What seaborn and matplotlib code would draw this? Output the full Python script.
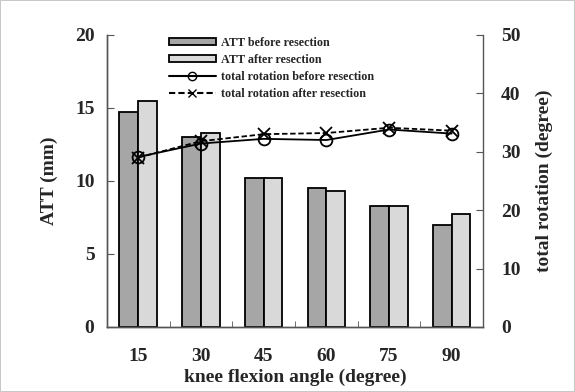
import numpy as np
import pandas as pd
import matplotlib
matplotlib.use("Agg")
import matplotlib.pyplot as plt
import seaborn as sns
from matplotlib.patches import Patch
from matplotlib.lines import Line2D
from matplotlib.ticker import FixedLocator

# ─────────────────────────────────────────────
# Data
# ─────────────────────────────────────────────
angles = ["15", "30", "45", "60", "75", "90"]
att_before = [14.75, 13.03, 10.2, 9.5, 8.3, 7.0]
att_after = [15.5, 13.3, 10.2, 9.3, 8.3, 7.75]
rot_before = [29.1, 31.4, 32.2, 32.0, 33.8, 33.1]
rot_after = [29.0, 31.8, 33.0, 33.2, 34.1, 33.6]

bar_labels = ["ATT before resection", "ATT after resection"]
line_labels = ["total rotation before resection", "total rotation after resection"]
bar_colors = ["#a6a6a6", "#d9d9d9"]

sns.set_style("ticks")
plt.rcParams["font.family"] = ["Liberation Serif", "DejaVu Serif"]
plt.rcParams["font.weight"] = "bold"

bars = pd.DataFrame({
    "angle": angles * 2,
    "att": att_before + att_after,
    "group": [bar_labels[0]] * len(angles) + [bar_labels[1]] * len(angles),
})
lines = pd.DataFrame({
    "angle": angles * 2,
    "rot": rot_before + rot_after,
    "group": [line_labels[0]] * len(angles) + [line_labels[1]] * len(angles),
})

fig = plt.figure(figsize=(5.75, 3.92), dpi=100)
fig.patch.set_linewidth(1.2)
ax = fig.add_axes([0.186, 0.166, 0.654, 0.745])

sns.barplot(data=bars, x="angle", y="att", hue="group", hue_order=bar_labels,
            palette=bar_colors, width=0.6, edgecolor="black", linewidth=1.3,
            saturation=1, ax=ax, legend=False)

ax2 = ax.twinx()
sns.pointplot(data=lines, x="angle", y="rot", hue="group", hue_order=line_labels,
              palette=["black", "black"], markers=["o", "x"], linestyles=["-", (0, (3, 1.5))],
              markersize=8.5, markerfacecolor="none", markeredgewidth=1.3,
              linewidth=1.3, ax=ax2, legend=False)

n = len(angles)
ax.set_xlim(-0.5, n - 0.5)
ax.set_ylim(0, 20)
ax2.set_ylim(0, 50)
ax.set_yticks([0, 5, 10, 15, 20])
ax2.set_yticks([0, 10, 20, 30, 40, 50])

ax.set_xlabel("knee flexion angle (degree)", fontsize=14, fontweight="bold", labelpad=3)
ax.set_ylabel("ATT (mm)", fontsize=14, fontweight="bold", labelpad=12)
ax2.set_ylabel("total rotation (degree)", fontsize=14, fontweight="bold", labelpad=11)

ax.tick_params(axis="x", length=0, labelsize=14, pad=15)
ax.xaxis.set_minor_locator(FixedLocator(np.arange(n - 1) + 0.5))
ax.tick_params(axis="x", which="minor", direction="in", length=4, color="#555555")
ax.tick_params(axis="y", direction="in", length=5, labelsize=14, pad=9, color="#555555")
ax2.tick_params(axis="y", direction="in", length=5, labelsize=14, pad=13, color="#555555")
for a in (ax, ax2):
    for lab in a.get_xticklabels() + a.get_yticklabels():
        lab.set_fontweight("bold")
    a.spines["top"].set_visible(False)
    for s in ("left", "right", "bottom"):
        a.spines[s].set_color("#555555")
        a.spines[s].set_linewidth(1.0)
ax.spines["right"].set_visible(False)

handles = [
    Patch(facecolor=bar_colors[0], edgecolor="black", linewidth=1.3),
    Patch(facecolor=bar_colors[1], edgecolor="black", linewidth=1.3),
    Line2D([], [], color="black", linestyle="-", marker="o", markerfacecolor="none", markersize=6),
    Line2D([], [], color="black", linestyle=(0, (3, 1.5)), marker="x", markersize=6),
]
ax.legend(handles, bar_labels + line_labels, loc="upper left", bbox_to_anchor=(0.135, 1.03),
          frameon=False, handlelength=3.9, handleheight=0.45, labelspacing=0.4,
          handletextpad=0.45, prop={"size": 8.7, "weight": "bold"})

fig.savefig("out.png", dpi=100, edgecolor="#c8c8c8", facecolor="white")
